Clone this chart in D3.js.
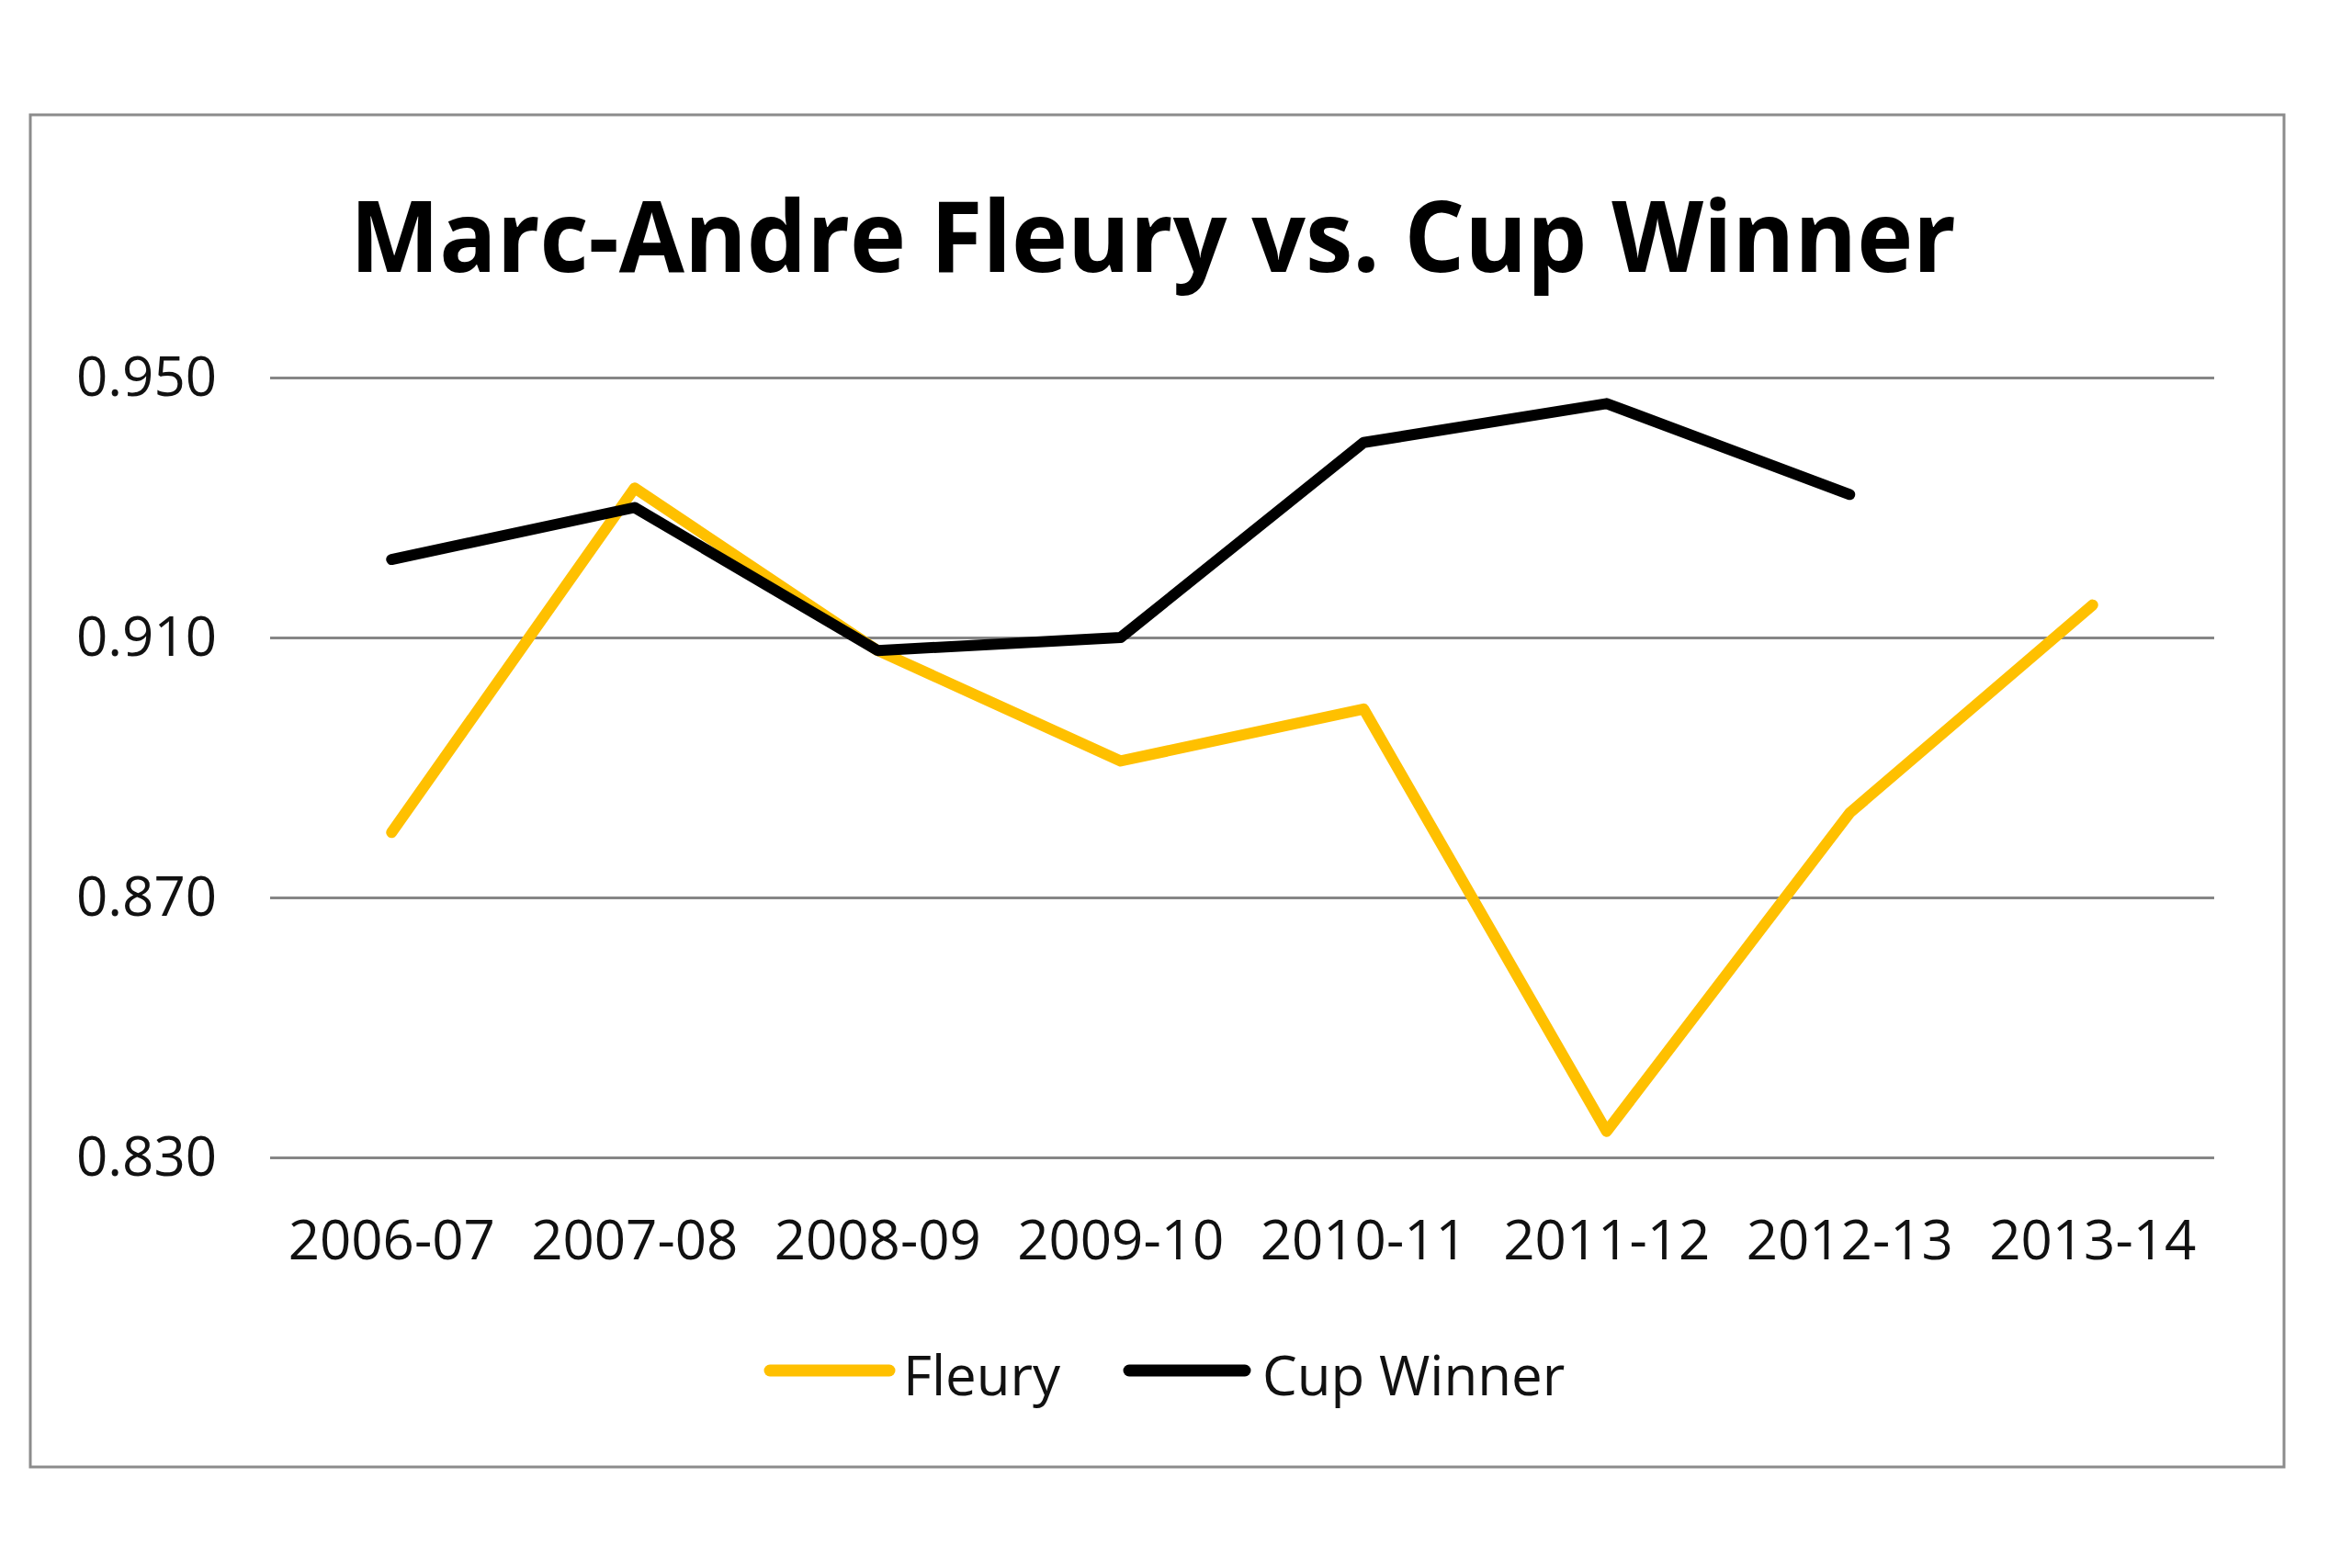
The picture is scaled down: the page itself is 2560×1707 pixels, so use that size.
<!DOCTYPE html>
<html>
<head>
<meta charset="utf-8">
<script src="https://cdn.jsdelivr.net/npm/d3@7"></script>
<style>
  body { margin: 0; background: #fff; }
  svg { display: block; }
</style>
</head>
<body>
<svg id="chart"></svg>
<script>
// data
const seasons = ["2006-07", "2007-08", "2008-09", "2009-10", "2010-11", "2011-12", "2012-13", "2013-14"];
const fleury = [0.880, 0.933, 0.908, 0.891, 0.899, 0.834, 0.883, 0.915];
const cupWinner = [0.922, 0.930, 0.908, 0.910, 0.940, 0.946, 0.932, null];
const yTicks = [0.830, 0.870, 0.910, 0.950];
const seriesNames = ["Fleury", "Cup Winner"];
const seriesColors = ["#ffc000", "#000000"];

const width = 2560;
const height = 1707;
const plotLeft = 294, plotRight = 2410;
const plotTop = 411, plotBottom = 1260;
const font = "'Open Sans', 'Noto Sans', sans-serif";

const svg = d3.select("#chart")
    .attr("width", width)
    .attr("height", height);

svg.append("rect")
    .attr("width", width)
    .attr("height", height)
    .attr("fill", "#fff");

// chart area border
svg.append("rect")
    .attr("x", 33)
    .attr("y", 125)
    .attr("width", 2453)
    .attr("height", 1472)
    .attr("fill", "none")
    .attr("stroke", "#8c8c8c")
    .attr("stroke-width", 3);

// title
svg.append("text")
    .attr("x", 381)
    .attr("y", 296)
    .attr("textLength", 1748)
    .attr("lengthAdjust", "spacingAndGlyphs")
    .style("font-family", font)
    .style("font-weight", "bold")
    .style("font-size", "108px")
    .attr("fill", "#000")
    .text("Marc-Andre Fleury vs. Cup Winner");

const x = d3.scaleBand()
    .domain(seasons)
    .range([plotLeft, plotRight]);

const y = d3.scaleLinear()
    .domain([0.830, 0.950])
    .range([plotBottom, plotTop]);

// y axis with gridlines
const yAxis = svg.append("g")
    .attr("transform", `translate(${plotLeft},0)`)
    .call(d3.axisLeft(y)
        .tickValues(yTicks)
        .tickFormat(d3.format(".3f"))
        .tickSize(-(plotRight - plotLeft))
        .tickPadding(58));
yAxis.select(".domain").remove();
yAxis.selectAll(".tick line")
    .attr("stroke", "#868686")
    .attr("stroke-width", 3);
yAxis.selectAll(".tick text")
    .style("font-family", font)
    .style("font-size", "60px")
    .attr("fill", "#111");

// x axis labels
const xAxis = svg.append("g")
    .attr("transform", `translate(0,${plotBottom})`)
    .call(d3.axisBottom(x).tickSize(0).tickPadding(68));
xAxis.select(".domain").remove();
xAxis.selectAll(".tick text")
    .style("font-family", font)
    .style("font-size", "60px")
    .attr("fill", "#111");

const line = d3.line()
    .defined(d => d.v != null)
    .x(d => x(d.s) + x.bandwidth() / 2)
    .y(d => y(d.v));

const seriesValues = [fleury, cupWinner];
seriesValues.forEach(function (vals, i) {
    svg.append("path")
        .datum(seasons.map((s, j) => ({ s: s, v: vals[j] })))
        .attr("d", line)
        .attr("fill", "none")
        .attr("stroke", seriesColors[i])
        .attr("stroke-width", 12)
        .attr("stroke-linejoin", "round")
        .attr("stroke-linecap", "round");
});

// legend
const legendItems = [
    { x1: 838, x2: 968, tx: 983 },
    { x1: 1229, x2: 1355, tx: 1374 }
];
legendItems.forEach(function (item, i) {
    svg.append("line")
        .attr("x1", item.x1)
        .attr("x2", item.x2)
        .attr("y1", 1492)
        .attr("y2", 1492)
        .attr("stroke", seriesColors[i])
        .attr("stroke-width", 13)
        .attr("stroke-linecap", "round");
    svg.append("text")
        .attr("x", item.tx)
        .attr("y", 1519)
        .style("font-family", font)
        .style("font-size", "60px")
        .attr("fill", "#111")
        .text(seriesNames[i]);
});
</script>
</body>
</html>
